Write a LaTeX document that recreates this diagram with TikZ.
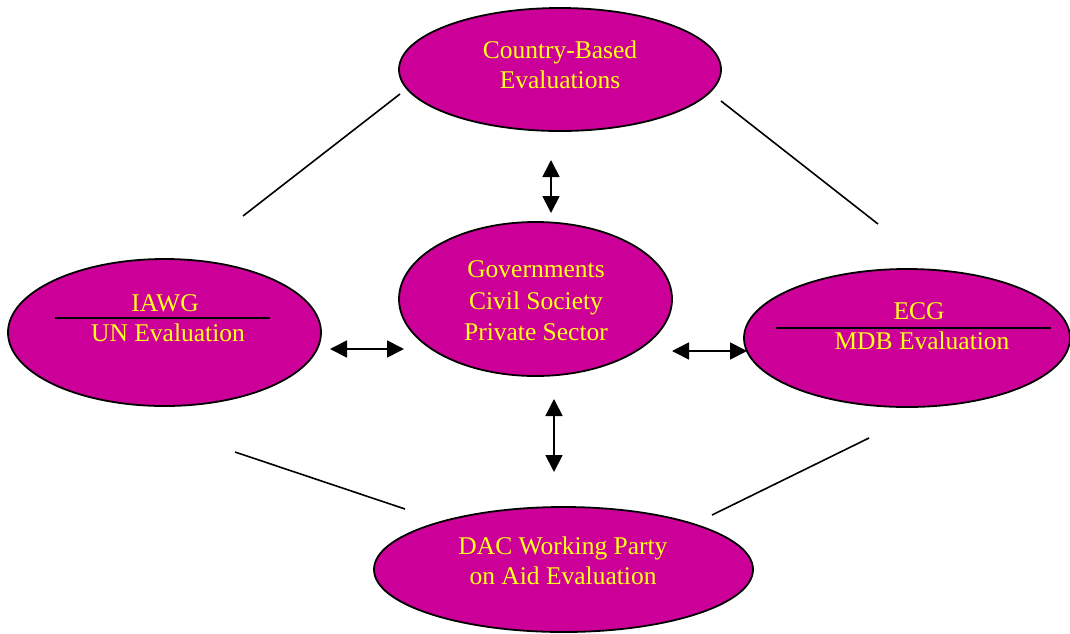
\documentclass[tikz,border=0pt]{standalone}
\usepackage{fontspec}
\setmainfont{Liberation Serif}
\usetikzlibrary{shapes.geometric,arrows.meta}
\definecolor{mag}{HTML}{CC0099}
\definecolor{ylw}{HTML}{FFFF1A}
\tikzset{
  oval/.style={ellipse,draw=black,line width=1.8pt,fill=mag,inner sep=0pt},
  txt/.style={text=ylw,font=\fontsize{25.5}{30}\selectfont,align=center,inner sep=0pt},
  link/.style={line width=1.6pt},
  dbl/.style={line width=1.8pt,{Triangle[length=17pt,width=17pt]}-{Triangle[length=17pt,width=17pt]}},
  rule/.style={line width=2pt}
}
\begin{document}
\begin{tikzpicture}[x=1pt,y=-1pt]
\useasboundingbox (0,0) rectangle (1070,633);
% ellipses
\node[oval,minimum width=322pt,minimum height=123pt] (top) at (560,69.5) {};
\node[oval,minimum width=313pt,minimum height=147pt] (left) at (164.5,332.5) {};
\node[oval,minimum width=273pt,minimum height=154pt] (mid) at (535.5,299) {};
\node[oval,minimum width=326pt,minimum height=138pt] (right) at (907,338) {};
\node[oval,minimum width=379pt,minimum height=125pt] (bot) at (563.5,569.5) {};
% texts
\node[txt] (ttop) at (560,65) {Country-Based\\Evaluations};
\node[txt] (tleft1) at (165,303) {IAWG};
\node[txt] (tleft2) at (168,333) {UN Evaluation};
\node[txt,font=\fontsize{25.5}{31.5}\selectfont] (tmid) at (536,301) {Governments\\Civil Society\\Private Sector};
\node[txt] (tright1) at (919,311) {ECG};
\node[txt] (tright2) at (922,341) {MDB Evaluation};
\node[txt] (tbot) at (563,561) {DAC Working Party\\on Aid Evaluation};
% rules inside ellipses
\coordinate (la) at (55,317.5); \coordinate (lb) at (270,317.5);
\coordinate (ra) at (776,327.5); \coordinate (rb) at (1051,327.5);
\draw[rule] (la) -- (lb);
\draw[rule] (ra) -- (rb);
% connecting lines
\coordinate (c1a) at (400,94); \coordinate (c1b) at (243,216);
\coordinate (c2a) at (721,101); \coordinate (c2b) at (878,224);
\coordinate (c3a) at (235,452); \coordinate (c3b) at (405,509);
\coordinate (c4a) at (712,515); \coordinate (c4b) at (869,438);
\draw[link] (c1a) -- (c1b);
\draw[link] (c2a) -- (c2b);
\draw[link] (c3a) -- (c3b);
\draw[link] (c4a) -- (c4b);
% arrows
\coordinate (a1a) at (551,160); \coordinate (a1b) at (551,213);
\coordinate (a2a) at (330,349); \coordinate (a2b) at (404,349);
\coordinate (a3a) at (672,351); \coordinate (a3b) at (747,351);
\coordinate (a4a) at (554,399); \coordinate (a4b) at (554,472);
\draw[dbl] (a1a) -- (a1b);
\draw[dbl] (a2a) -- (a2b);
\draw[dbl] (a3a) -- (a3b);
\draw[dbl] (a4a) -- (a4b);
\end{tikzpicture}
\end{document}
